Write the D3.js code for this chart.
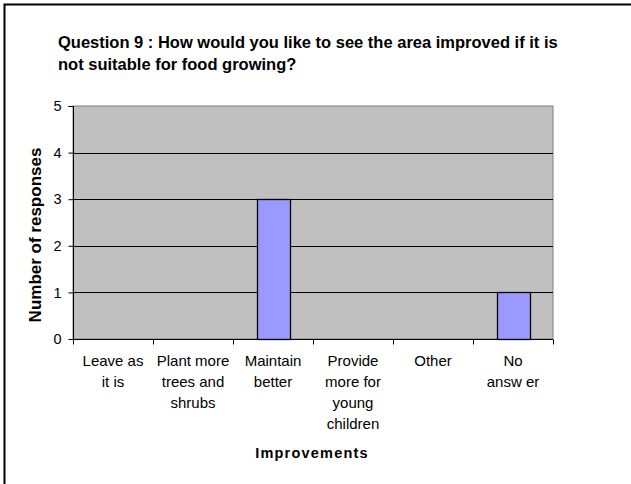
<!DOCTYPE html>
<html><head><meta charset="utf-8">
<script src="https://cdn.jsdelivr.net/npm/d3@7/dist/d3.min.js"></script>
<style>body{margin:0;background:#fff}svg{display:block}text{font-family:Arial,"Liberation Sans",sans-serif}</style>
</head><body>
<svg id="c" width="631" height="484"></svg>
<script>
const categories = [["Leave as","it is"],["Plant more","trees and","shrubs"],["Maintain","better"],["Provide","more for","young","children"],["Other"],["No","answ er"]];
const values = [0,0,3,0,0,1];
const yTicks = [0,1,2,3,4,5];
const titleLines = ["Question 9 : How would you like to see the area improved if it is","not suitable for food growing?"];
const yLabel = "Number of responses";
const xLabel = "Improvements";

const svg = d3.select("#c");
svg.append("rect").attr("x",4.5).attr("y",4.5).attr("width",640).attr("height",500).attr("fill","#fff").attr("stroke","#000").attr("stroke-width",2);

const L=73,R=553,T=106,B=339;
const xb = d3.scaleBand().domain(d3.range(categories.length)).range([L,R]);
const y = d3.scaleLinear().domain([0,5]).range([B,T]);

svg.append("rect").attr("x",L).attr("y",T).attr("width",R-L).attr("height",B-T).attr("fill","#C0C0C0").attr("stroke","#808080").attr("stroke-width",1);

svg.append("g").selectAll("line").data(yTicks.filter(d=>d>0&&d<5)).join("line")
  .attr("x1",L).attr("x2",R).attr("y1",d=>Math.round(y(d))+0.5).attr("y2",d=>Math.round(y(d))+0.5).attr("stroke","#000");

svg.append("g").selectAll("rect").data(values).join("rect")
  .attr("x",(d,i)=>Math.round(xb(i)+xb.bandwidth()/2-16)+0.5).attr("width",33)
  .attr("y",d=>Math.round(y(d))+0.5).attr("height",d=>Math.round(y(0))-Math.round(y(d)))
  .attr("fill","#9999FF").attr("stroke","#000").attr("stroke-width",1.3)
  .style("display",d=>d>0?null:"none");

// y axis
const ya = svg.append("g").attr("transform",`translate(${L+0.5},0)`).call(d3.axisLeft(y).tickValues(yTicks).tickSize(5).tickPadding(7).tickFormat(d3.format("d")));
ya.select(".domain").attr("d",`M-5,${Math.round(T)+0.5}H0V${Math.round(B)+0.5}`).attr("stroke","#000");
ya.selectAll(".tick line").attr("stroke","#000");
ya.selectAll(".tick text").attr("font-size",14.5).attr("font-family","Arial,'Liberation Sans',sans-serif").attr("fill","#000");

// x axis
const xa = svg.append("g").attr("transform",`translate(0,${B+0.5})`);
xa.append("line").attr("x1",L).attr("x2",R).attr("stroke","#000");
xa.selectAll("line.t").data(d3.range(categories.length+1)).join("line").attr("class","t")
  .attr("x1",i=>Math.round(L+i*xb.step())+0.5).attr("x2",i=>Math.round(L+i*xb.step())+0.5).attr("y1",0).attr("y2",5).attr("stroke","#000");
const lab = xa.selectAll("text").data(categories).join("text")
  .attr("text-anchor","middle").attr("font-size",15).attr("fill","#000")
  .attr("transform",(d,i)=>`translate(${xb(i)+xb.bandwidth()/2},0)`);
lab.selectAll("tspan").data(d=>d).join("tspan").attr("x",0).attr("y",(d,j)=>26+j*21).text(d=>d);

svg.append("text").attr("x",312).attr("y",458).attr("text-anchor","middle").attr("font-size",14.5).attr("font-weight","bold").attr("letter-spacing",1.2).text(xLabel);
svg.append("text").attr("transform","translate(41,235) rotate(-90)").attr("text-anchor","middle").attr("font-size",17).attr("font-weight","bold").text(yLabel);

svg.append("g").selectAll("text").data(titleLines).join("text").attr("x",58).attr("y",(d,i)=>48+i*22)
  .attr("font-size",16.5).attr("font-weight","bold").text(d=>d);
</script>
</body></html>
